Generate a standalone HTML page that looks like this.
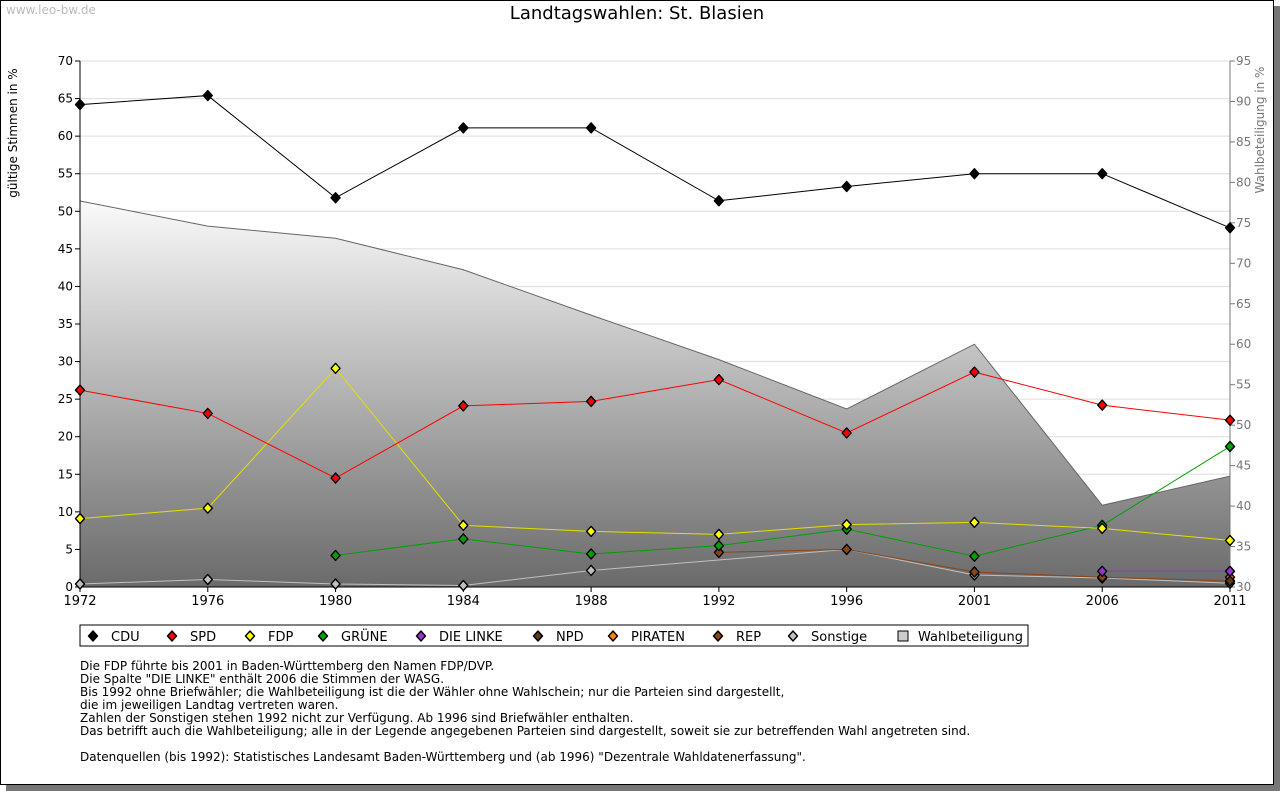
<!DOCTYPE html>
<html><head><meta charset="utf-8"><style>
body{margin:0;background:#fff;font-family:"DejaVu Sans",sans-serif;}
#frame{position:absolute;left:0;top:0;width:1272px;height:783px;border:1px solid #000;background:#fff;box-shadow:6px 6px 0 #777;}
.t{position:absolute;font-size:12px;color:#000;}
svg text{font-family:"DejaVu Sans",sans-serif;}
</style></head><body>
<div id="frame"></div>
<div class="t" style="left:6px;top:3px;color:#bbb;font-size:12px">www.leo-bw.de</div>
<div class="t" style="left:0;width:1274px;text-align:center;top:3px;font-size:18px">Landtagswahlen: St. Blasien</div>
<svg id="c" width="1280" height="791" style="position:absolute;left:0;top:0">
<defs><linearGradient id="g" x1="0" y1="0" x2="0" y2="1"><stop offset="0" stop-color="#fafafa"/><stop offset="1" stop-color="#6a6a6a"/></linearGradient></defs>
</svg>
<div class="t" style="left:80px;top:660px;line-height:13px;font-size:12px">Die FDP führte bis 2001 in Baden-Württemberg den Namen FDP/DVP.<br>Die Spalte "DIE LINKE" enthält 2006 die Stimmen der WASG.<br>Bis 1992 ohne Briefwähler; die Wahlbeteiligung ist die der Wähler ohne Wahlschein; nur die Parteien sind dargestellt,<br>die im jeweiligen Landtag vertreten waren.<br>Zahlen der Sonstigen stehen 1992 nicht zur Verfügung. Ab 1996 sind Briefwähler enthalten.<br>Das betrifft auch die Wahlbeteiligung; alle in der Legende angegebenen Parteien sind dargestellt, soweit sie zur betreffenden Wahl angetreten sind.<br><br>Datenquellen (bis 1992): Statistisches Landesamt Baden-Württemberg und (ab 1996) "Dezentrale Wahldatenerfassung".</div>
<script>
const years=["1972","1976","1980","1984","1988","1992","1996","2001","2006","2011"];
const cdu=[64.2,65.4,51.8,61.1,61.1,51.4,53.3,55.0,55.0,47.8];
const spd=[26.2,23.1,14.5,24.1,24.7,27.6,20.5,28.6,24.2,22.2];
const fdp=[9.1,10.5,29.1,8.2,7.4,7.0,8.3,8.6,7.8,6.2];
const gruene=[null,null,4.2,6.4,4.4,5.5,7.7,4.1,8.2,18.7];
const linke=[null,null,null,null,null,null,null,null,2.1,2.1];
const npd=[null,null,null,null,null,null,null,null,null,0.8];
const piraten=[null,null,null,null,null,null,null,null,null,1.3];
const rep=[null,null,null,null,null,4.6,5.0,2.0,1.3,0.8];
const sonst=[0.4,1.0,0.4,0.2,2.2,null,5.0,1.6,1.2,0.5];
const turnout=[77.7,74.6,73.1,69.2,63.6,58.1,52.0,60.0,40.1,43.7];
const leftTicks=[0,5,10,15,20,25,30,35,40,45,50,55,60,65,70];
const rightTicks=[30,35,40,45,50,55,60,65,70,75,80,85,90,95];
const X0=80,X1=1230,Y0=587,Y1=61;
const x=i=>X0+(X1-X0)*i/(years.length-1);
const y=v=>Y0-(v/70)*(Y0-Y1);
const yr=v=>Y0-((v-30)/65)*(Y0-Y1);
const svg=document.getElementById('c');const NS='http://www.w3.org/2000/svg';
function mk(t,a,p){const e=document.createElementNS(NS,t);for(const k in a)e.setAttribute(k,a[k]);(p||svg).appendChild(e);return e;}
leftTicks.forEach(v=>{const l=mk('line',{x1:X0,x2:X1,y1:y(v),y2:y(v),stroke:'#ddd'});


mk('line',{x1:X0-5,x2:X0,y1:y(v),y2:y(v),stroke:'#000'});
const t=mk('text',{x:X0-7,y:y(v)+4,'text-anchor':'end','font-size':12,fill:'#000'});t.textContent=v;

});
rightTicks.forEach(v=>{mk('line',{x1:X1,x2:X1+5,y1:yr(v),y2:yr(v),stroke:'#777'});
const t=mk('text',{x:X1+6,y:yr(v)+4,'font-size':12,fill:'#777'});t.textContent=v;

});
let d='M'+x(0)+','+Y0;turnout.forEach((v,i)=>d+=' L'+x(i)+','+yr(v));d+=' L'+x(9)+','+Y0+'Z';
const ar=mk('path',{d:d,fill:'url(#g)',stroke:'#666'});


mk('line',{x1:X0,x2:X0,y1:Y1,y2:Y0,stroke:'#000'});
mk('line',{x1:X1,x2:X1,y1:Y1,y2:Y0,stroke:'#777'});
mk('line',{x1:X0,x2:X1,y1:Y0,y2:Y0,stroke:'#000'});
years.forEach((yy,i)=>{mk('line',{x1:x(i),x2:x(i),y1:Y0,y2:Y0+5,stroke:'#000'});
const t=mk('text',{x:x(i),y:Y0+18,'text-anchor':'middle','font-size':13});t.textContent=yy;

});
const yt=mk('text',{transform:'translate(17,133) rotate(-90)','text-anchor':'middle','font-size':12});yt.textContent='gültige Stimmen in %';


const yt2=mk('text',{transform:'translate(1264,130) rotate(-90)','text-anchor':'middle','font-size':12,fill:'#777'});yt2.textContent='Wahlbeteiligung in %';


function marker(cx,cy,c){return mk('path',{d:`M${cx},${cy-5.5}Q${cx+1.5},${cy-1.5} ${cx+5},${cy}Q${cx+1.5},${cy+1.5} ${cx},${cy+5.5}Q${cx-1.5},${cy+1.5} ${cx-5},${cy}Q${cx-1.5},${cy-1.5} ${cx},${cy-5.5}Z`,fill:c,stroke:'#000','stroke-width':0.8,'stroke-linejoin':'round'});}
function marker2(cx,cy,c){return mk('path',{d:`M${cx},${cy-5}L${cx+4.5},${cy}L${cx},${cy+5}L${cx-4.5},${cy}Z`,fill:c,stroke:'#000','stroke-width':1.4,'stroke-linejoin':'round'});}
const series=[['sonstige',sonst,'#c0c0c0'],['rep',rep,'#8b4513'],['piraten',piraten,'#ff8000'],['npd',npd,'#5a3a1a'],['linke',linke,'#9933cc'],['gruene',gruene,'#00a000'],['fdp',fdp,'#ffff00'],['spd',spd,'#ff0000'],['cdu',cdu,'#000000']];
series.forEach(([n,arr,c])=>{
let pts=[];arr.forEach((v,i)=>{if(v!=null)pts.push([x(i),y(v)]);});
if(pts.length>1){const pl=mk('polyline',{points:pts.map(p=>p.join(',')).join(' '),fill:'none',stroke:c==='#ffff00'?'#e0e000':c,'stroke-width':1});

}
arr.forEach((v,i)=>{if(v==null)return;
const m=marker2(x(i),y(v),c);

});
});
const lg=mk('rect',{x:80,y:625,width:948,height:21,fill:'#fff',stroke:'#000'});


const leg=[['CDU','#000',93],['SPD','#f00',172],['FDP','#ff0',250],['GRÜNE','#00a000',323],['DIE LINKE','#9933cc',421],['NPD','#5a3a1a',538],['PIRATEN','#ff8000',613],['REP','#8b4513',718],['Sonstige','#c0c0c0',793]];
leg.forEach(([t,c,lx])=>{const cy=636;
marker2(lx,cy,c);
const e=mk('text',{x:lx+18,y:cy+5,'font-size':13});e.textContent=t;

});
mk('rect',{x:898,y:631,width:10,height:10,fill:'#ccc',stroke:'#000'});
const wt=mk('text',{x:918,y:641,'font-size':13});wt.textContent='Wahlbeteiligung';


</script>
</body></html>
